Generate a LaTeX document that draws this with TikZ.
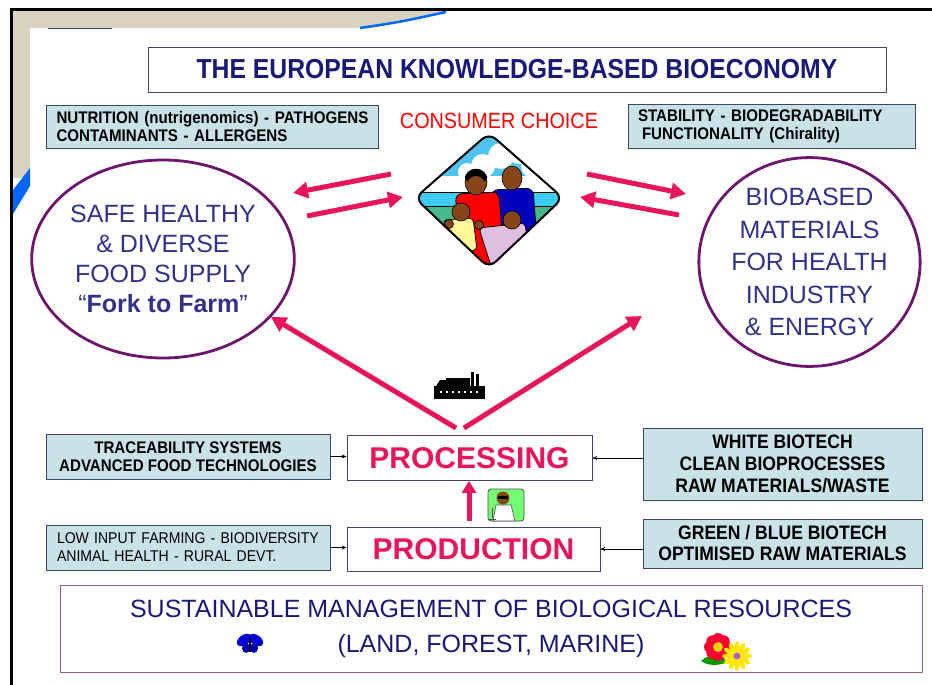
\documentclass[tikz,border=0pt]{standalone}
\usepackage{fontspec}
\setmainfont{Liberation Sans}
\newfontfamily\narrowfont[FakeStretch=0.9]{Liberation Sans}
\usepackage{tikz}
\usetikzlibrary{arrows.meta, shapes.geometric, positioning}

\definecolor{navy}{RGB}{25,25,120}
\definecolor{indigo}{RGB}{50,50,140}
\definecolor{pinkred}{RGB}{232,20,92}
\definecolor{boxblue}{RGB}{200,226,232}
\definecolor{boxline}{RGB}{60,70,100}
\definecolor{ringpurple}{RGB}{110,20,110}
\definecolor{sand}{RGB}{216,211,192}
\definecolor{skin}{RGB}{135,70,25}
\definecolor{skyblue}{RGB}{80,195,240}
\definecolor{seablue}{RGB}{60,205,240}
\definecolor{grass}{RGB}{70,185,140}

\tikzset{
  infobox/.style={draw=boxline, fill=boxblue, line width=0.8pt, inner sep=0pt,
    font=\narrowfont\bfseries\fontsize{16.8}{18}\selectfont, align=center},
  stagebox/.style={draw=boxline, fill=white, line width=0.8pt, inner sep=0pt,
    text=pinkred, font=\bfseries\fontsize{30}{36}\selectfont},
  ring/.style={ellipse, draw=ringpurple, line width=2.8pt, inner sep=0pt,
    text=indigo, align=center},
  bigarrow/.style={pinkred, line width=5pt, -{Triangle[length=15pt,width=16pt]}},
  feed/.style={black, line width=0.6pt, -{Stealth[length=5pt,width=4pt]}}
}

\begin{document}
\begin{tikzpicture}[x=1pt, y=-1pt]
  \useasboundingbox (0,0) rectangle (932,685);

  % slide frame
  \fill[sand] (13,11) -- (446,11) -- (372,28) -- (13,28) -- cycle;
  \fill[sand] (13,11) rectangle (30,178);
  \draw[blue!60!cyan, line width=2.5pt] (360,28) .. controls (400,22) .. (446,12);
  \fill[blue!60!cyan] (13,190) -- (30,168) -- (30,186) -- (13,214) -- cycle;
  \draw[line width=3pt] (11,685) -- (11,9.5) -- (932,9.5);
  \draw[boxline, line width=1.2pt] (48,28.5) -- (112,28.5);

  % title
  \node[draw=boxline, line width=0.8pt, minimum width=738pt, minimum height=45pt,
    text=navy, font=\narrowfont\bfseries\fontsize{27.5}{30}\selectfont] (title)
    at (517,69.5) {THE EUROPEAN KNOWLEDGE-BASED BIOECONOMY};

  % top side notes
  \node[infobox, minimum width=332pt, minimum height=43pt, text width=311pt,
    align=left] (nutri) at (212,126.5)
    {\mbox{NUTRITION (nutrigenomics) - PATHOGENS}\\CONTAMINANTS - ALLERGENS};
  \node[infobox, minimum width=287pt, minimum height=44pt, text width=267pt,
    align=left] (stab) at (771.5,126)
    {\mbox{STABILITY - BIODEGRADABILITY}\\\hspace*{4pt}FUNCTIONALITY (Chirality)};
  \node[text=red, font=\narrowfont\fontsize{22}{24}\selectfont] (choice) at (499,121)
    {CONSUMER CHOICE};

  % family in a diamond
  \begin{scope}[shift={(489,198)}]
    \begin{scope}
      \clip[rounded corners=9pt] (0,-65) -- (74,0) -- (0,70) -- (-74,0) -- cycle;
      \fill[skyblue] (-80,-70) rectangle (80,-6);
      \fill[white] (-80,-22) rectangle (80,-6);
      \fill[white] (-22,-26) circle (9) (-6,-32) circle (12) (12,-42) circle (13)
        (30,-45) circle (11) (44,-32) circle (12) (56,-20) circle (8);
      \fill[seablue] (-80,-6) rectangle (80,8);
      \fill[grass] (-80,8) rectangle (80,75);
      \draw[line width=0.8pt] (-80,-6) -- (80,-6) (-80,8) -- (80,8);
      % father
      \filldraw[fill=blue!75!black, line width=0.8pt, rounded corners=7pt]
        (2,-8) -- (44,-10) -- (48,44) -- (8,46) -- cycle;
      \filldraw[fill=skin, line width=0.6pt] (23,-20) ellipse (10 and 12);
      % mother
      \filldraw[fill=red, line width=0.8pt, rounded corners=7pt]
        (-34,-4) -- (10,-6) -- (16,80) -- (-24,80) -- cycle;
      \filldraw[fill=skin, line width=0.6pt] (-13,-16) ellipse (11 and 13);
      \fill[black] (-24,-20) arc (180:360:11 and 9) -- (-2,-22) arc (0:180:11 and 9)
        -- cycle;
      \fill[skin] (-13,-13) ellipse (9 and 9);
      % children
      \filldraw[fill=yellow!40, line width=0.7pt, rounded corners=4pt]
        (-46,22) -- (-16,20) -- (-12,52) -- (-36,56) -- cycle;
      \filldraw[fill=skin, line width=0.6pt] (-28,14) circle (9);
      \filldraw[fill=skin, line width=0.6pt] (-40,26) circle (4.5);
      \filldraw[fill=violet!25, line width=0.7pt, rounded corners=4pt]
        (-10,30) -- (36,25) -- (40,56) -- (2,68) -- cycle;
      \filldraw[fill=skin, line width=0.6pt] (23,22) circle (9);
      \filldraw[fill=skin, line width=0.6pt] (-10,27) circle (4.5);
    \end{scope}
    \draw[line width=2pt, rounded corners=9pt]
      (0,-65) -- (74,0) -- (0,70) -- (-74,0) -- cycle;
  \end{scope}

  % the two goals
  \node[ring, minimum width=236pt, minimum height=198pt,
    font=\fontsize{25}{30}\selectfont] (food) at (163,259)
    {SAFE HEALTHY\\\& DIVERSE\\FOOD SUPPLY\\“\textbf{Fork to Farm}”};
  \node[ring, minimum width=213pt, minimum height=205pt,
    font=\fontsize{25}{32.5}\selectfont] (mater) at (809.5,262)
    {BIOBASED\\MATERIALS\\FOR HEALTH\\INDUSTRY\\\& ENERGY};

  % arrow ends
  \coordinate (fa) at (391,174);
  \coordinate (fb) at (293,193);
  \coordinate (fc) at (307,216);
  \coordinate (fd) at (403,197);
  \coordinate (ma) at (587,174);
  \coordinate (mb) at (686,194);
  \coordinate (mc) at (679,215);
  \coordinate (md) at (580,197);
  \coordinate (vl) at (456,428);
  \coordinate (vr) at (464,428);
  \coordinate (foodtip) at (271,317);
  \coordinate (matertip) at (642,316);
  \coordinate (lift) at (469,521);

  \draw[bigarrow] (fa) -- (fb);
  \draw[bigarrow] (fc) -- (fd);
  \draw[bigarrow] (ma) -- (mb);
  \draw[bigarrow] (mc) -- (md);
  \draw[bigarrow] (vl) -- (foodtip);
  \draw[bigarrow] (vr) -- (matertip);

  % factory
  \fill[black] (434,399) rectangle (485,386);
  \fill[black] (436,386) -- (440,380) -- (446,380) -- (446,378) -- (470,378)
    -- (470,386) -- cycle;
  \fill[black] (471,386) rectangle (474,372);
  \fill[black] (476,386) rectangle (479,374);
  \foreach \wx in {440,446,...,476}
    \fill[white] (\wx,391) rectangle (\wx+2,393);

  % chain
  \node[stagebox, minimum width=245pt, minimum height=45pt] (proc) at (469.5,458)
    {PROCESSING};
  \node[stagebox, minimum width=253pt, minimum height=44pt] (prod) at (473.5,549)
    {PRODUCTION};
  \draw[bigarrow, -{Triangle[length=12pt,width=14pt]}] (lift) -- (lift |- proc.south);

  % scientist
  \filldraw[fill=green!55, draw=black!70, line width=0.8pt, rounded corners=3pt]
    (488,489) rectangle (524,521);
  \filldraw[fill=white, draw=black!70, line width=0.6pt]
    (496,505) -- (511,505) -- (515,521) -- (493,521) -- cycle;
  \fill[skin] (503,498) circle (6.5);
  \fill[black] (498,496) rectangle (508,499);
  \draw[black!70, line width=0.8pt] (492,508) -- (492,518) (489,519) -- (496,519);

  % side notes
  \node[infobox, minimum width=284pt, minimum height=45pt] (trace) at (188,456.5)
    {TRACEABILITY SYSTEMS\\ADVANCED FOOD TECHNOLOGIES};
  \node[infobox, minimum width=279pt, minimum height=72pt,
    font=\narrowfont\bfseries\fontsize{19.5}{22}\selectfont] (white) at (782.5,464)
    {WHITE BIOTECH\\CLEAN BIOPROCESSES\\RAW MATERIALS/WASTE};
  \node[infobox, minimum width=284pt, minimum height=45pt, text width=262pt,
    align=left, font=\narrowfont\fontsize{15.6}{18}\selectfont] (lowin) at (188,547.5)
    {\mbox{LOW INPUT FARMING - BIODIVERSITY}\\ANIMAL HEALTH - RURAL DEVT.};
  \node[infobox, minimum width=279pt, minimum height=49pt,
    font=\narrowfont\bfseries\fontsize{19.5}{21}\selectfont] (green) at (782.5,543.5)
    {GREEN / BLUE BIOTECH\\OPTIMISED RAW MATERIALS};

  \draw[feed] (trace.east) -- (trace.east -| proc.west);
  \draw[feed] (proc.east -| white.west) -- (proc.east);
  \draw[feed] (lowin.east) -- (lowin.east -| prod.west);
  \draw[feed] (prod.east -| green.west) -- (prod.east);

  % resources
  \node[draw=ringpurple!70, line width=1pt, minimum width=862pt, minimum height=87pt,
    align=center, text=navy, font=\fontsize{25}{35}\selectfont] (base) at (491,628.5)
    {SUSTAINABLE MANAGEMENT OF BIOLOGICAL RESOURCES\\(LAND, FOREST, MARINE)};

  % butterfly
  \fill[blue!85!black, rotate around={35:(244,640)}] (244,640) ellipse (8 and 5);
  \fill[blue!85!black, rotate around={-35:(256,640)}] (256,640) ellipse (8 and 5);
  \fill[blue!70!black] (246,648) ellipse (4 and 5) (254,648) ellipse (4 and 5);
  \fill[black] (249,638) rectangle (251,652);

  % flowers
  \fill[green!60!black] (701,661) .. controls (710,652) and (722,656) .. (728,662)
    .. controls (718,666) and (708,666) .. (701,661);
  \foreach \a in {0,45,...,315}
    \fill[red!80!magenta] (718,647) ++(\a:8) circle (6);
  \fill[yellow!70!orange] (718,647) circle (5);
  \foreach \a in {0,30,...,330}
    \fill[yellow!90!orange, rotate around={\a:(737,656)}] (737,647) ellipse (2.5 and 6);
  \fill[violet!60] (737,656) circle (3.5);
\end{tikzpicture}
\end{document}
